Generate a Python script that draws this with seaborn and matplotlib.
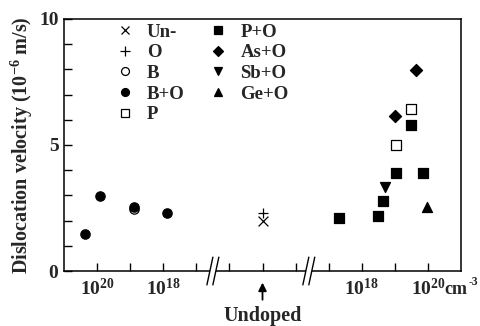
import numpy as np
import pandas as pd
import matplotlib
matplotlib.use("Agg")
import matplotlib.pyplot as plt
import seaborn as sns
from matplotlib.lines import Line2D

sns.set_theme(style="white")
plt.rcParams['font.family'] = ['Liberation Serif', 'DejaVu Serif']
plt.rcParams['font.weight'] = 'bold'
plt.rcParams['mathtext.fontset'] = 'custom'
plt.rcParams['mathtext.rm'] = 'Liberation Serif:bold'
plt.rcParams['mathtext.it'] = 'Liberation Serif:bold'
plt.rcParams['mathtext.bf'] = 'Liberation Serif:bold'
plt.rcParams['mathtext.default'] = 'rm'

# ---- data (log10 concentration in cm^-3, velocity in 1e-6 m/s) ----
# acceptor-doped side (left, reversed axis)
bo_logc = [20.37, 19.91, 18.89, 17.89]
bo_vel = [1.47, 2.98, 2.54, 2.29]
b_logc = [18.89]
b_vel = [2.45]
# undoped
un_vel = [1.98]
o_vel = [2.30]
# donor-doped side (right)
po_logc = [17.31, 18.49, 18.64, 19.03, 19.85, 19.48]
po_vel = [2.10, 2.18, 2.78, 3.89, 3.89, 5.79]
p_logc = [19.48, 19.03]
p_vel = [6.43, 5.00]
aso_logc = [19.63, 19.00]
aso_vel = [7.98, 6.15]
sbo_logc = [18.70]
sbo_vel = [3.33]
geo_logc = [19.97]
geo_vel = [2.54]

def left_pos(lc):
    return [21 - v for v in lc]

def right_pos(lc):
    return [v - 9 for v in lc]

UNDOPED = 6

series = [
    ("Un-", [UNDOPED], un_vel, 'x', 'none'),
    ("O", [UNDOPED], o_vel, '+', 'none'),
    ("B", left_pos(b_logc), b_vel, 'o', 'white'),
    ("B+O", left_pos(bo_logc), bo_vel, 'o', 'black'),
    ("P", right_pos(p_logc), p_vel, 's', 'white'),
    ("P+O", right_pos(po_logc), po_vel, 's', 'black'),
    ("As+O", right_pos(aso_logc), aso_vel, 'D', 'black'),
    ("Sb+O", right_pos(sbo_logc), sbo_vel, 'v', 'black'),
    ("Ge+O", right_pos(geo_logc), geo_vel, '^', 'black'),
]
sizes = {'x': 50, '+': 60, 'o': 45, 's': 46, 'D': 38, 'v': 52, '^': 52}

fig = plt.figure(figsize=(4.81, 3.26), dpi=100)
ax = fig.add_axes([64/481, 1-271/326, 397/481, 252/326])

handles = []
for name, xs, ys, m, fc in series:
    df = pd.DataFrame({"x": xs, "y": ys})
    if m in ('x', '+'):
        sns.scatterplot(data=df, x="x", y="y", ax=ax, marker=m, color='black',
                        s=sizes[m], linewidth=0.9, zorder=3)
    else:
        sns.scatterplot(data=df, x="x", y="y", ax=ax, marker=m, color=fc,
                        edgecolor='black', s=sizes[m], linewidth=0.9, zorder=3)
    handles.append(Line2D([], [], linestyle='none', marker=m,
                          markerfacecolor=fc if fc != 'none' else 'black',
                          markeredgecolor='black', markersize=np.sqrt(sizes[m]) * 0.85,
                          markeredgewidth=0.9, label=name))

ax.set_xlim(0, 12)
ax.set_ylim(0, 10)
ax.set_xlabel("")
ax.set_ylabel("Dislocation velocity (10$^{-6}$ m/s)", fontsize=14.5, fontweight='bold', labelpad=3)

ax.set_yticks([0, 5, 10])
ax.set_yticks(range(0, 11), minor=True)
ax.set_yticklabels(["0", "5", "10"], fontsize=14, fontweight='bold')
xt = list(range(1, 12))
ax.set_xticks(xt)
labels = {1: "10$^{20}$", 3: "10$^{18}$", 9: "10$^{18}$", 11: "10$^{20}$"}
ax.set_xticklabels([labels.get(t, "") for t in xt], fontsize=14)
ax.tick_params(axis='both', which='both', direction='in', length=6, width=1,
               color='black', top=False, right=False, bottom=True, left=True)
ax.tick_params(axis='x', pad=5)
ax.tick_params(axis='y', pad=4)
for s in ax.spines.values():
    s.set_color('black')
    s.set_linewidth(1.1)

# break marks
for bx in (4.5, 7.4):
    dx, dy = 0.09, 0.55
    off = 0.09
    poly = plt.Polygon([[bx - off - dx, -dy], [bx - off + dx, dy], [bx + off + dx, dy], [bx + off - dx, -dy]],
                       closed=True, facecolor='white', edgecolor='none', clip_on=False, zorder=5)
    ax.add_patch(poly)
    for o in (-off, off):
        ax.plot([bx + o - dx, bx + o + dx], [-dy, dy], color='black', lw=1.0,
                clip_on=False, zorder=6)

# Undoped arrow
ax.annotate("", xy=(UNDOPED, -0.35), xytext=(UNDOPED, -1.25),
            arrowprops=dict(arrowstyle='-|>', color='black', lw=1.3, mutation_scale=12),
            annotation_clip=False)
ax.text(UNDOPED, -1.8, "Undoped", ha='center', va='center', fontsize=14.5, clip_on=False)

leg = ax.legend(handles=handles, ncol=2, frameon=False, loc='upper left',
                bbox_to_anchor=(0.13, 0.982), borderpad=0, borderaxespad=0,
                fontsize=13.5, handletextpad=0.67, handlelength=1.0,
                columnspacing=1.3, labelspacing=0.19)

# units label next to last tick label: "cm" plus a small "-3" superscript
fig.canvas.draw()
lab = ax.get_xticklabels()[10]
bb = lab.get_window_extent()
W, H = fig.get_figwidth() * fig.dpi, fig.get_figheight() * fig.dpi
base = bb.y0 + 5
cm = fig.text((bb.x1 - 0.5) / W, base / H, "cm", ha='left', va='baseline', fontsize=13)
fig.canvas.draw()
cbb = cm.get_window_extent()
fig.text((cbb.x1 + 0.5) / W, (base + 9) / H, "-3", ha='left', va='baseline', fontsize=8.5)

fig.savefig("out.png", dpi=100)
